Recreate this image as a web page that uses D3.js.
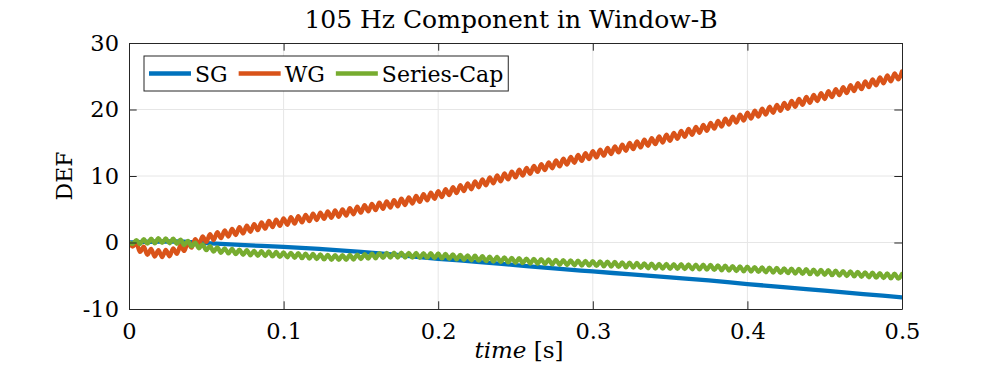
<!DOCTYPE html>
<html>
<head>
<meta charset="utf-8">
<script src="https://cdn.jsdelivr.net/npm/d3@7"></script>
<style>
  body { margin: 0; background: #fff; }
  svg text { font-family: "DejaVu Serif", serif; fill: #000; }
</style>
</head>
<body>
<div id="chart"></div>
<script>
// ---- data ----
var xTicks = [0, 0.1, 0.2, 0.3, 0.4, 0.5];
var yTicks = [-10, 0, 10, 20, 30];
var seriesNames = ["SG", "WG", "Series-Cap"];
var seriesColors = ["#0072BD", "#D95319", "#77AC30"];

// SG is smooth, sampled coarsely
var sgTime = [0, 0.01, 0.02, 0.03, 0.04, 0.05, 0.075, 0.1, 0.125, 0.15, 0.175, 0.2,
  0.225, 0.25, 0.275, 0.3, 0.325, 0.35, 0.375, 0.4, 0.425, 0.45, 0.475, 0.5];
var sgValues = [0, 0.1, 0.15, 0.15, 0.05, -0.1, -0.4, -0.65, -1.0, -1.4, -1.9, -2.45,
  -2.9, -3.4, -3.9, -4.35, -4.8, -5.25, -5.7, -6.25, -6.75, -7.25, -7.75, -8.25];

// WG and Series-Cap ripple, values read at every half ripple period (0.5 s / 210)
var rippleStep = 0.5 / 210;
var wgValues = [
  0, -0.6, -0.15, -1.42, -0.63, -1.87, -0.98, -2.12, -1.14, -2.2,
  -1.12, -2.07, -0.88, -1.72, -0.46, -1.27, 0.02, -0.77, 0.52, -0.3,
  0.93, 0.08, 1.26, 0.37, 1.55, 0.65, 1.82, 0.9, 2.05, 1.13,
  2.29, 1.37, 2.53, 1.61, 2.77, 1.85, 3.01, 2.08, 3.24, 2.3,
  3.44, 2.49, 3.62, 2.67, 3.8, 2.85, 3.98, 3.03, 4.16, 3.21,
  4.34, 3.38, 4.5, 3.54, 4.66, 3.7, 4.82, 3.86, 4.98, 4.04,
  5.18, 4.25, 5.4, 4.48, 5.62, 4.68, 5.81, 4.86, 5.99, 5.05,
  6.18, 5.24, 6.38, 5.44, 6.58, 5.64, 6.79, 5.86, 7.02, 6.1,
  7.26, 6.34, 7.49, 6.57, 7.72, 6.83, 8.02, 7.12, 8.31, 7.42,
  8.61, 7.72, 8.9, 8.01, 9.2, 8.31, 9.5, 8.6, 9.79, 8.9,
  10.09, 9.19, 10.38, 9.48, 10.67, 9.78, 10.96, 10.06, 11.23, 10.33,
  11.51, 10.61, 11.79, 10.88, 12.06, 11.16, 12.34, 11.44, 12.62, 11.71,
  12.89, 11.99, 13.17, 12.27, 13.44, 12.54, 13.72, 12.8, 13.97, 13.05,
  14.22, 13.3, 14.46, 13.55, 14.71, 13.79, 14.96, 14.04, 15.21, 14.29,
  15.45, 14.54, 15.7, 14.78, 15.95, 15.03, 16.2, 15.28, 16.47, 15.58,
  16.78, 15.89, 17.08, 16.19, 17.38, 16.5, 17.69, 16.8, 18.0, 17.11,
  18.3, 17.41, 18.61, 17.72, 18.91, 18.02, 19.22, 18.33, 19.52, 18.63,
  19.82, 18.92, 20.11, 19.22, 20.41, 19.51, 20.7, 19.81, 21.0, 20.1,
  21.29, 20.4, 21.59, 20.69, 21.88, 20.99, 22.18, 21.28, 22.47, 21.58,
  22.77, 21.87, 23.06, 22.17, 23.36, 22.46, 23.65, 22.76, 23.95, 23.05,
  24.24, 23.35, 24.54, 23.64, 24.83, 23.94, 25.13, 24.23, 25.42, 24.53,
  25.72
];
var capValues = [
  0, -0.2, 0.36, -0.25, 0.5, -0.18, 0.57, -0.11, 0.65, -0.07,
  0.62, -0.12, 0.57, -0.2, 0.43, -0.38, 0.25, -0.59, -0.01, -0.87,
  -0.3, -1.16, -0.54, -1.36, -0.72, -1.54, -0.88, -1.65, -0.97, -1.74,
  -1.07, -1.84, -1.16, -1.93, -1.25, -1.99, -1.3, -2.04, -1.35, -2.1,
  -1.42, -2.17, -1.49, -2.24, -1.55, -2.3, -1.61, -2.36, -1.67, -2.42,
  -1.73, -2.48, -1.8, -2.55, -1.87, -2.61, -1.89, -2.61, -1.89, -2.61,
  -1.86, -2.56, -1.81, -2.51, -1.75, -2.43, -1.68, -2.37, -1.62, -2.32,
  -1.57, -2.27, -1.54, -2.26, -1.54, -2.26, -1.55, -2.28, -1.57, -2.3,
  -1.59, -2.32, -1.62, -2.35, -1.64, -2.4, -1.71, -2.47, -1.78, -2.54,
  -1.85, -2.61, -1.93, -2.68, -1.99, -2.74, -2.05, -2.81, -2.12, -2.87,
  -2.18, -2.93, -2.24, -3.0, -2.31, -3.06, -2.36, -3.11, -2.41, -3.16,
  -2.46, -3.2, -2.51, -3.25, -2.55, -3.3, -2.6, -3.35, -2.65, -3.38,
  -2.68, -3.42, -2.72, -3.46, -2.75, -3.49, -2.79, -3.53, -2.83, -3.58,
  -2.88, -3.63, -2.93, -3.68, -2.98, -3.73, -3.03, -3.78, -3.08, -3.83,
  -3.13, -3.87, -3.17, -3.91, -3.2, -3.94, -3.23, -3.96, -3.25, -3.98,
  -3.27, -4.01, -3.3, -4.03, -3.32, -4.05, -3.34, -4.08, -3.38, -4.13,
  -3.43, -4.18, -3.48, -4.23, -3.54, -4.29, -3.59, -4.34, -3.64, -4.38,
  -3.69, -4.43, -3.74, -4.48, -3.78, -4.53, -3.83, -4.58, -3.88, -4.62,
  -3.93, -4.67, -3.98, -4.72, -4.02, -4.77, -4.07, -4.82, -4.12, -4.86,
  -4.17, -4.92, -4.23, -4.98, -4.29, -5.04, -4.35, -5.1, -4.41, -5.16,
  -4.48, -5.23, -4.54, -5.29, -4.6, -5.35, -4.66, -5.4, -4.7, -5.44,
  -4.74
];

// ---- layout ----
var width = 997, height = 371;
var plotLeft = 129, plotRight = 902, plotTop = 43, plotBottom = 309;
var axisColor = "#262626";
var tickLen = 7.7;
var serif = "'DejaVu Serif', serif";

var svg = d3.select("#chart").append("svg")
  .attr("width", width)
  .attr("height", height);

var x = d3.scaleLinear().domain([0, 0.5]).range([plotLeft, plotRight]);
var y = d3.scaleLinear().domain([-10, 30]).range([plotBottom, plotTop]);

// grille
var grid = svg.append("g").attr("stroke", "#e6e6e6").attr("stroke-width", 1);
grid.selectAll("line.vx").data(xTicks.slice(1, -1)).enter().append("line")
  .attr("x1", function(d){ return x(d); }).attr("x2", function(d){ return x(d); })
  .attr("y1", plotTop).attr("y2", plotBottom);
grid.selectAll("line.hy").data(yTicks.slice(1, -1)).enter().append("line")
  .attr("y1", function(d){ return y(d); }).attr("y2", function(d){ return y(d); })
  .attr("x1", plotLeft).attr("x2", plotRight);

// courbes
svg.append("clipPath").attr("id", "plotclip")
  .append("rect").attr("x", plotLeft).attr("y", plotTop - 2)
  .attr("width", plotRight - plotLeft).attr("height", plotBottom - plotTop + 4);

var sgData = sgTime.map(function(t, i){ return [t, sgValues[i]]; });
var wgData = wgValues.map(function(v, i){ return [i * rippleStep, v]; });
var capData = capValues.map(function(v, i){ return [i * rippleStep, v]; });

var smoothLine = d3.line()
  .x(function(d){ return x(d[0]); })
  .y(function(d){ return y(d[1]); })
  .curve(d3.curveMonotoneX);
var rippleLine = d3.line()
  .x(function(d){ return x(d[0]); })
  .y(function(d){ return y(d[1]); })
  .curve(d3.curveCatmullRom.alpha(0.5));

var lines = svg.append("g").attr("clip-path", "url(#plotclip)")
  .attr("fill", "none").attr("stroke-width", 4.3)
  .attr("stroke-linejoin", "round").attr("stroke-linecap", "round");
lines.append("path").datum(sgData).attr("stroke", seriesColors[0]).attr("d", smoothLine);
lines.append("path").datum(wgData).attr("stroke", seriesColors[1]).attr("d", rippleLine);
lines.append("path").datum(capData).attr("stroke", seriesColors[2]).attr("d", rippleLine);

// axes (ticks vers l'intérieur)
function styleAxis(g) {
  g.attr("font-family", serif);
  g.select(".domain").attr("stroke", axisColor).attr("stroke-width", 1);
  g.selectAll(".tick line").attr("stroke", axisColor).attr("stroke-width", 1);
  g.selectAll(".tick text").attr("fill", "#000").style("font-size", "22.5px")
    .style("font-family", serif);
}

svg.append("g").attr("transform", "translate(0," + plotBottom + ")")
  .call(d3.axisBottom(x).tickValues(xTicks).tickSizeInner(-tickLen).tickSizeOuter(0)
    .tickPadding(14).tickFormat(function(d){ return d === 0 ? "0" : d3.format(".1f")(d); }))
  .call(styleAxis);
svg.append("g").attr("transform", "translate(" + plotLeft + ",0)")
  .call(d3.axisLeft(y).tickValues(yTicks).tickSizeInner(-tickLen).tickSizeOuter(0)
    .tickPadding(10).tickFormat(function(d){ return String(d); }))
  .call(styleAxis);
svg.append("g").attr("transform", "translate(0," + plotTop + ")")
  .call(d3.axisTop(x).tickValues(xTicks).tickSizeInner(-tickLen).tickSizeOuter(0).tickFormat(""))
  .call(styleAxis);
svg.append("g").attr("transform", "translate(" + plotRight + ",0)")
  .call(d3.axisRight(y).tickValues(yTicks).tickSizeInner(-tickLen).tickSizeOuter(0).tickFormat(""))
  .call(styleAxis);

// titre et étiquettes
svg.append("text")
  .attr("x", 511).attr("y", 28)
  .attr("text-anchor", "middle").style("font-size", "25px")
  .text("105 Hz Component in Window-B");

var xl = svg.append("text")
  .attr("x", 519).attr("y", 358)
  .attr("text-anchor", "middle").style("font-size", "23px");
xl.append("tspan").style("font-style", "italic").text("time");
xl.append("tspan").text(" [s]");

svg.append("text")
  .attr("transform", "translate(72," + ((plotTop + plotBottom) / 2) + ") rotate(-90)")
  .attr("text-anchor", "middle").style("font-size", "22px")
  .text("DEF");

// légende
var legend = svg.append("g");
var legX = 144, legY = 56, legH = 35;
var legBox = legend.append("rect")
  .attr("x", legX).attr("y", legY).attr("height", legH)
  .attr("fill", "#fff").attr("stroke", axisColor).attr("stroke-width", 1);
var cursor = legX + 5;
seriesNames.forEach(function(name, i){
  legend.append("line")
    .attr("x1", cursor).attr("x2", cursor + 42)
    .attr("y1", legY + legH / 2).attr("y2", legY + legH / 2)
    .attr("stroke", seriesColors[i]).attr("stroke-width", 4.3);
  var t = legend.append("text")
    .attr("x", cursor + 46).attr("y", legY + legH / 2)
    .attr("dy", "0.37em").style("font-size", "22px")
    .text(name);
  cursor = cursor + 46 + t.node().getComputedTextLength() + 11;
});
legBox.attr("width", cursor - 11 + 5 - legX);
</script>
</body>
</html>
